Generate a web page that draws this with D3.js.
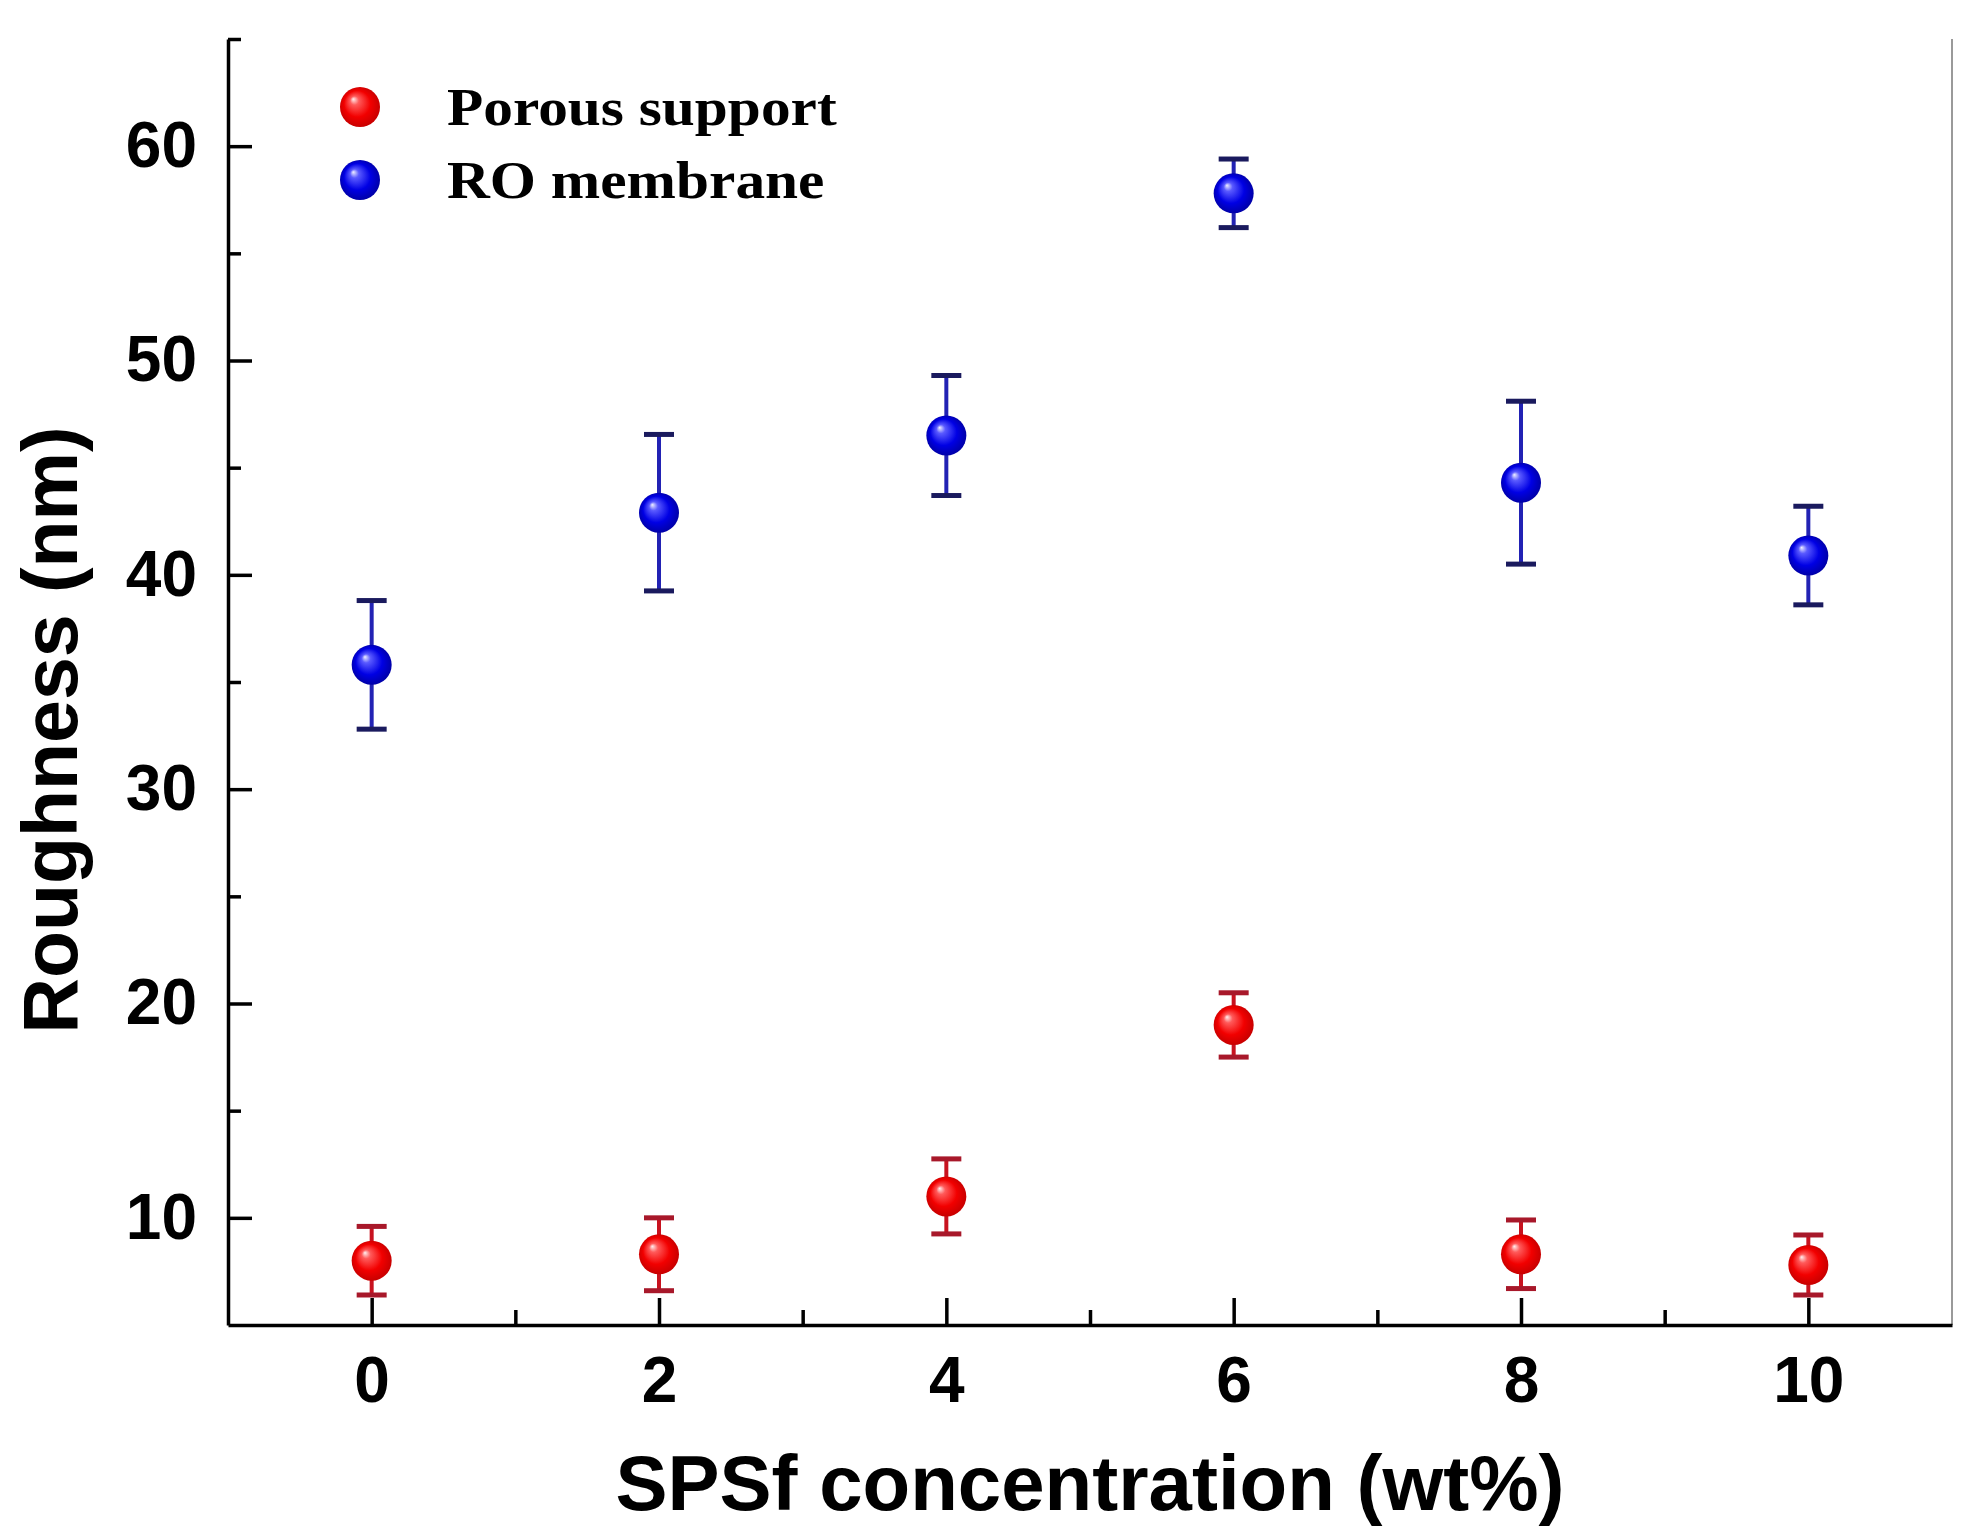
<!DOCTYPE html>
<html>
<head>
<meta charset="utf-8">
<script src="https://cdn.jsdelivr.net/npm/d3@7"></script>
<style>
  body { margin: 0; background: #fff; }
  .axis text { font-family: "Liberation Sans", Arial, sans-serif; font-weight: bold; font-size: 64px; fill: #000; }
  .axis path, .axis line { stroke: #000; stroke-width: 3.5px; }
</style>
</head>
<body>
<div id="container"></div>
<script>
// values
const concentrations = [0, 2, 4, 6, 8, 10];
const porousSupport = [8.0, 8.3, 11.0, 19.0, 8.3, 7.8];
const porousSupportErr = [1.6, 1.7, 1.75, 1.5, 1.6, 1.4];
const roMembrane = [35.8, 42.9, 46.5, 57.8, 44.3, 40.9];
const roMembraneErr = [3.0, 3.65, 2.8, 1.6, 3.8, 2.3];

const xMajorTicks = [0, 2, 4, 6, 8, 10];
const xMinorTicks = [1, 3, 5, 7, 9];
const yMajorTicks = [10, 20, 30, 40, 50, 60];
const yMinorTicks = [15, 25, 35, 45, 55, 65];

const seriesNames = ['Porous support', 'RO membrane'];

const width = 1977;
const height = 1536;
const margin = {left: 228, top: 39, right: 25, bottom: 211};

const series = [
    {name: seriesNames[0], values: porousSupport, errs: porousSupportErr, grad: 'gradRed', stem: '#c8121f', cap: '#a8182a'},
    {name: seriesNames[1], values: roMembrane, errs: roMembraneErr, grad: 'gradBlue', stem: '#2222b4', cap: '#1a1a5e'}
];

const x = d3.scaleLinear().domain([-1, 11]).range([margin.left, width - margin.right]);
const y = d3.scaleLinear().domain([5, 65]).range([height - margin.bottom, margin.top]);

const svg = d3.select('#container').append('svg')
    .attr('width', width)
    .attr('height', height)
    .style('background', '#fff');

// sphere shading
const defs = svg.append('defs');
const gradStops = {
    gradRed: ['#fff0f0', '#ff5a5a', '#f20000', '#c00000'],
    gradBlue: ['#f0f0ff', '#5a5aff', '#0000e4', '#00009c']
};
Object.keys(gradStops).forEach((id) => {
    const g = defs.append('radialGradient').attr('id', id)
        .attr('cx', '50%').attr('cy', '50%').attr('r', '55%')
        .attr('fx', '33%').attr('fy', '30%');
    [0, 0.2, 0.6, 1].forEach((o, i) => {
        g.append('stop').attr('offset', o).attr('stop-color', gradStops[id][i]);
    });
});

// right frame line (thin grey)
svg.append('line')
    .attr('x1', x(11)).attr('x2', x(11))
    .attr('y1', y(65)).attr('y2', y(5))
    .style('stroke', '#9a9a9a')
    .style('stroke-width', 2);

// axes: ticks point inward
svg.append('g').attr('class', 'axis')
    .attr('transform', `translate(0 ${y(5)})`)
    .call(d3.axisBottom(x).tickValues(xMinorTicks).tickSize(-15).tickFormat(''))
    .call((g) => g.select('.domain').remove());

svg.append('g').attr('class', 'axis')
    .attr('transform', `translate(0 ${y(5)})`)
    .call(d3.axisBottom(x).tickValues(xMajorTicks).tickSizeInner(-27).tickSizeOuter(0).tickPadding(32).tickFormat(d3.format('d')));

svg.append('g').attr('class', 'axis')
    .attr('transform', `translate(${x(-1)} 0)`)
    .call(d3.axisLeft(y).tickValues(yMinorTicks).tickSize(-13).tickFormat(''))
    .call((g) => g.select('.domain').remove());

svg.append('g').attr('class', 'axis')
    .attr('transform', `translate(${x(-1)} 0)`)
    .call(d3.axisLeft(y).tickValues(yMajorTicks).tickSizeInner(-24).tickSizeOuter(0).tickPadding(31).tickFormat(d3.format('d')));

// axis titles
svg.append('text')
    .attr('x', (x(-1) + x(11)) / 2)
    .attr('y', 1510)
    .attr('text-anchor', 'middle')
    .style('font-family', '"Liberation Sans", Arial, sans-serif')
    .style('font-weight', 'bold')
    .style('font-size', '78px')
    .text('SPSf concentration (wt%)');

svg.append('text')
    .attr('transform', 'translate(77 730) rotate(-90)')
    .attr('text-anchor', 'middle')
    .style('font-family', '"Liberation Sans", Arial, sans-serif')
    .style('font-weight', 'bold')
    .style('font-size', '77px')
    .text('Roughness (nm)');

// error bars + markers
const capHalf = 15;
const r = 20;

series.forEach((s) => {
    const pts = concentrations.map((c, i) => ({c: c, v: s.values[i], e: s.errs[i]}));
    const g = svg.append('g');

    g.selectAll('line.stem').data(pts).enter().append('line')
        .attr('class', 'stem')
        .attr('x1', (d) => x(d.c)).attr('x2', (d) => x(d.c))
        .attr('y1', (d) => y(d.v + d.e)).attr('y2', (d) => y(d.v - d.e))
        .style('stroke', s.stem).style('stroke-width', 4);

    [1, -1].forEach((sign) => {
        g.selectAll('line.cap' + sign).data(pts).enter().append('line')
            .attr('x1', (d) => x(d.c) - capHalf).attr('x2', (d) => x(d.c) + capHalf)
            .attr('y1', (d) => y(d.v + sign * d.e)).attr('y2', (d) => y(d.v + sign * d.e))
            .style('stroke', s.cap).style('stroke-width', 5);
    });

    g.selectAll('circle').data(pts).enter().append('circle')
        .attr('cx', (d) => x(d.c))
        .attr('cy', (d) => y(d.v))
        .attr('r', r)
        .style('fill', `url(#${s.grad})`);
});

// legend
const legend = svg.append('g').attr('transform', 'translate(360 107)');
const items = legend.selectAll('g').data(series).enter().append('g')
    .attr('transform', (d, i) => `translate(0 ${i * 73})`);

items.append('circle')
    .attr('r', r)
    .style('fill', (d) => `url(#${d.grad})`);

items.append('text')
    .attr('transform', 'translate(87 18) scale(1.12 1)')
    .style('font-family', '"Liberation Serif", "Times New Roman", serif')
    .style('font-weight', 'bold')
    .style('font-size', '53px')
    .style('fill', '#000')
    .text((d) => d.name);
</script>
</body>
</html>
